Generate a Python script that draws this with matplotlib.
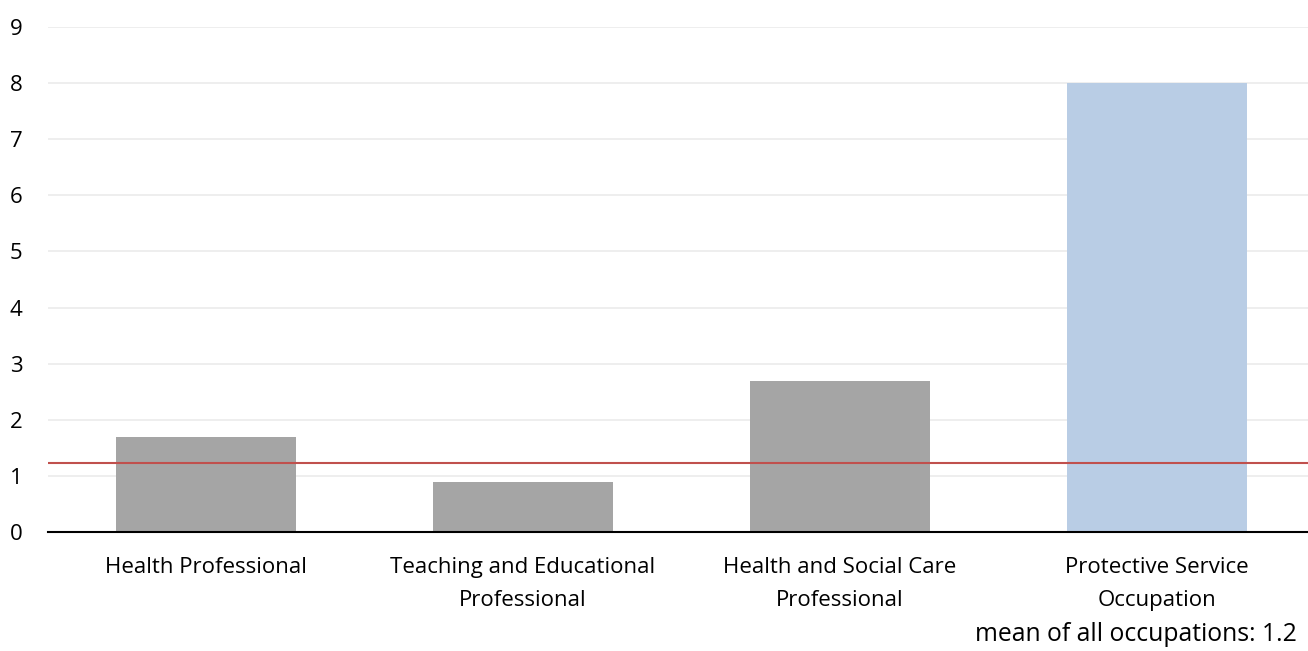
import matplotlib.pyplot as plt

categories = ["Health Professional", "Teaching and Educational\nProfessional",
              "Health and Social Care\nProfessional", "Protective Service\nOccupation"]
values = [1.7, 0.9, 2.7, 8.0]
colors = ["#a5a5a5", "#a5a5a5", "#a5a5a5", "#b9cde5"]
mean_all = 1.23

fig = plt.figure(figsize=(13.08, 6.51), dpi=100)
ax = fig.add_axes([47.5/1308, 1 - 532/651, 1268/1308, (532 - 27)/651])

x = range(len(categories))
ax.bar(x, values, width=0.57, color=colors, zorder=2)
ax.axhline(mean_all, color="#c0504d", linewidth=1.5, zorder=3)

ax.set_ylim(0, 9)
ax.set_xlim(-0.5, 3.5)
ax.set_yticks(range(10))
ax.yaxis.grid(True, color="#ebebeb", linewidth=1.2, zorder=0)
ax.set_axisbelow(True)
ax.set_xticks(list(x))
ax.set_xticklabels(categories, fontsize=16, fontfamily="Open Sans", linespacing=1.75)
for lab in ax.get_yticklabels():
    lab.set_fontsize(16)
    lab.set_fontfamily("Open Sans")

for s in ["top", "right", "left"]:
    ax.spines[s].set_visible(False)
ax.spines["bottom"].set_linewidth(1.5)
ax.tick_params(axis="both", length=0)
ax.tick_params(axis="x", pad=18)
ax.tick_params(axis="y", pad=18)

fig.text(1297/1308, 1 - 641/651, "mean of all occupations: 1.2", ha="right", va="baseline",
         fontsize=17.8, fontfamily="Open Sans")

fig.savefig("out.png", dpi=100)
